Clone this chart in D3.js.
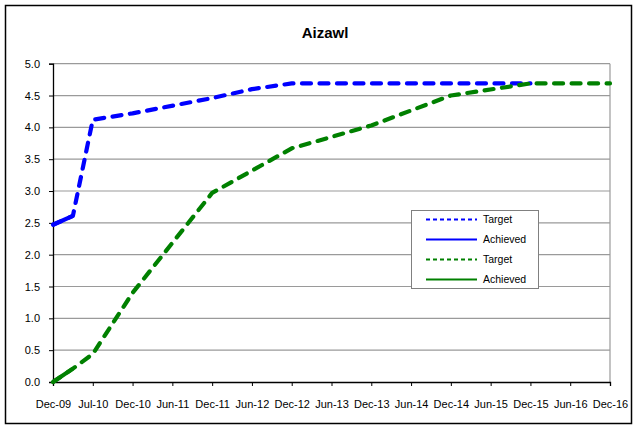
<!DOCTYPE html>
<html>
<head>
<meta charset="utf-8">
<script src="https://cdn.jsdelivr.net/npm/d3@7"></script>
<style>
  html, body { margin: 0; padding: 0; background: #fff; }
  svg { display: block; font-family: "Liberation Sans", Arial, sans-serif; }
</style>
</head>
<body>
<svg id="chart" width="637" height="432"></svg>
<script>
// ---- Data ----
const title = "Aizawl";
const categories = ["Dec-09","Jul-10","Dec-10","Jun-11","Dec-11","Jun-12","Dec-12","Jun-13","Dec-13","Jun-14","Dec-14","Jun-15","Dec-15","Jun-16","Dec-16"];
const yTicks = [0.0, 0.5, 1.0, 1.5, 2.0, 2.5, 3.0, 3.5, 4.0, 4.5, 5.0];

// x positions are category indices (fractional = between labelled dates)
const blueTargetX   = [0, 0.5, 1, 2, 4, 5, 6, 8, 10, 12];
const blueTargetY   = [2.47, 2.61, 4.12, 4.22, 4.46, 4.6, 4.69, 4.69, 4.69, 4.69];
const blueAchievedX = [0, 0.5];
const blueAchievedY = [2.47, 2.61];
const greenTargetX   = [0, 0.5, 1, 2, 4, 6, 8, 10, 12, 14];
const greenTargetY   = [0.0, 0.21, 0.44, 1.4, 2.97, 3.67, 4.03, 4.5, 4.69, 4.69];
const greenAchievedX = [0, 0.5];
const greenAchievedY = [0.0, 0.21];

const legendLabels = ["Target", "Achieved", "Target", "Achieved"];
const legendColors = ["#0000ff", "#0000ff", "#008000", "#008000"];
const legendDashed = [true, false, true, false];

// ---- Layout ----
const svg = d3.select("#chart");
const W = 637, H = 432;
const plot = { left: 53, right: 610, top: 63.7, bottom: 382 };

svg.append("rect").attr("width", W).attr("height", H).attr("fill", "#fff");
// outer frame
svg.append("rect")
  .attr("x", 5.5).attr("y", 5.5).attr("width", 626).attr("height", 418)
  .attr("fill", "none").attr("stroke", "#000").attr("stroke-width", 1.5);

const x = d3.scaleLinear().domain([0, categories.length - 1]).range([plot.left, plot.right]);
const y = d3.scaleLinear().domain([0, 5]).range([plot.bottom, plot.top]);

// gridlines
svg.append("g").selectAll("line").data(yTicks.filter(d => d > 0)).join("line")
  .attr("x1", plot.left).attr("x2", plot.right)
  .attr("y1", d => y(d)).attr("y2", d => y(d))
  .attr("stroke", "#9a9a9a").attr("stroke-width", 1.2);
// right border of plot
svg.append("line")
  .attr("x1", plot.right).attr("x2", plot.right)
  .attr("y1", plot.top).attr("y2", plot.bottom)
  .attr("stroke", "#9a9a9a").attr("stroke-width", 1.2);

// y axis
const yAxis = d3.axisLeft(y).tickValues(yTicks).tickFormat(d3.format(".1f")).tickSize(4).tickPadding(9);
const gy = svg.append("g").attr("transform", `translate(${plot.left},0)`).call(yAxis);
gy.select(".domain").attr("stroke", "#000").attr("stroke-width", 1.3);
gy.selectAll(".tick line").attr("stroke", "#000");
gy.selectAll(".tick text").attr("font-size", 11).attr("fill", "#000")
  .attr("font-family", "'Liberation Sans', Arial, sans-serif");

// x axis
const xAxis = d3.axisBottom(x).tickValues(d3.range(categories.length))
  .tickFormat(i => categories[i]).tickSize(4).tickPadding(14);
const gx = svg.append("g").attr("transform", `translate(0,${plot.bottom})`).call(xAxis);
gx.select(".domain").attr("stroke", "#000").attr("stroke-width", 1.3);
gx.selectAll(".tick line").attr("stroke", "#000");
gx.selectAll(".tick text").attr("font-size", 11).attr("fill", "#000")
  .attr("font-family", "'Liberation Sans', Arial, sans-serif");

// title
svg.append("text").attr("x", 325).attr("y", 38).attr("text-anchor", "middle")
  .attr("font-size", 15).attr("font-weight", "bold").attr("fill", "#000").text(title);

// lines
const line = d3.line().x(d => x(d[0])).y(d => y(d[1])).curve(d3.curveLinear);
const zip = (xs, ys) => xs.map((v, i) => [v, ys[i]]);
function drawSeries(xs, ys, color, dashed) {
  svg.append("path").datum(zip(xs, ys))
    .attr("d", line).attr("fill", "none").attr("stroke", color)
    .attr("stroke-width", 4.2).attr("stroke-linecap", dashed ? "round" : "butt")
    .attr("stroke-linejoin", "round")
    .attr("stroke-dasharray", dashed ? "9,8.5" : null);
}
drawSeries(blueTargetX, blueTargetY, "#0000ff", true);
drawSeries(blueAchievedX, blueAchievedY, "#0000ff", false);
drawSeries(greenTargetX, greenTargetY, "#008000", true);
drawSeries(greenAchievedX, greenAchievedY, "#008000", false);

// legend
const lg = svg.append("g");
lg.append("rect").attr("x", 411.5).attr("y", 210.5).attr("width", 127).attr("height", 78)
  .attr("fill", "#fff").attr("stroke", "#808080").attr("stroke-width", 1);
legendLabels.forEach((lab, i) => {
  const yy = 219.5 + i * 20;
  lg.append("line").attr("x1", 426).attr("x2", 477).attr("y1", yy).attr("y2", yy)
    .attr("stroke", legendColors[i]).attr("stroke-width", 2)
    .attr("stroke-dasharray", legendDashed[i] ? "4,3" : null);
  lg.append("text").attr("x", 483).attr("y", yy + 3.8).attr("font-size", 10.5)
    .attr("fill", "#000").text(lab);
});
</script>
</body>
</html>
